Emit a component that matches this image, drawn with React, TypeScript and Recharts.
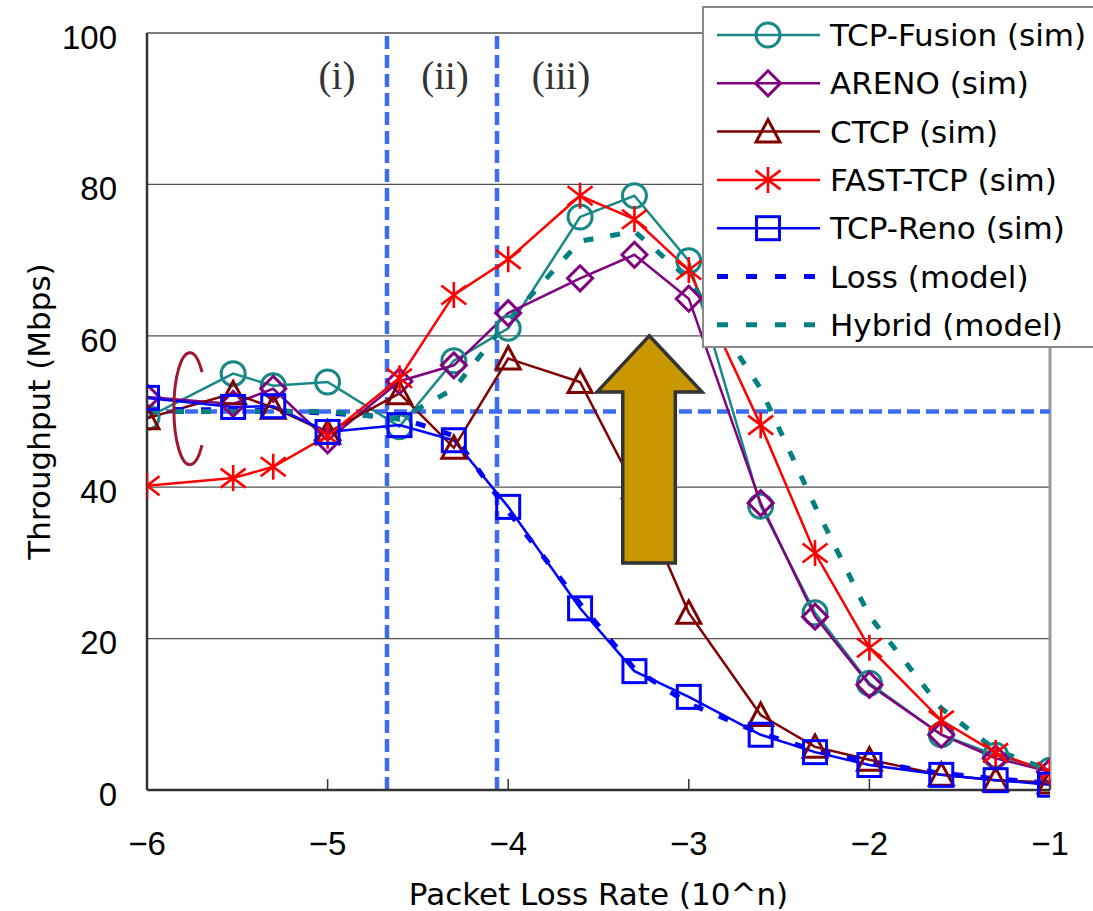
import React from 'react';
import {
  LineChart,
  Line,
  XAxis,
  YAxis,
  CartesianGrid,
  ReferenceLine,
  ReferenceArea,
  ReferenceDot,
  Legend,
  Label,
} from 'recharts';

// ---- data ----
const lossRateExp = [-6, -5.523, -5.301, -5, -4.602, -4.301, -4, -3.602, -3.301, -3, -2.602, -2.301, -2, -1.602, -1.301, -1];
const tcpFusion = [49.2, 55.0, 53.4, 53.9, 48.0, 56.7, 61.0, 75.7, 78.5, 69.9, 37.5, 23.4, 14.1, 7.3, 4.6, 2.6];
const areno = [51.9, 51.0, 53.0, 46.2, 54.0, 56.1, 63.0, 67.6, 70.7, 64.9, 37.9, 22.9, 13.9, 7.3, 4.2, 2.4];
const ctcp = [49.1, 52.4, 50.5, 47.2, 52.4, 45.2, 57.0, 53.9, 40.0, 23.4, 9.9, 5.7, 4.0, 2.0, 1.3, 1.0];
const fastTcp = [40.2, 41.2, 42.7, 46.8, 54.4, 65.4, 70.1, 78.5, 75.4, 68.7, 48.2, 31.3, 18.8, 9.2, 4.9, 2.4];
const tcpReno = [51.8, 50.6, 50.7, 47.3, 48.2, 46.2, 37.4, 24.0, 15.7, 12.3, 7.3, 5.0, 3.3, 2.0, 1.3, 0.7];
const lossModel = [50.3, 50.2, 50.1, 49.8, 49.2, 46.8, 36.8, 24.6, 16.0, 11.4, 7.5, 5.2, 3.7, 2.2, 1.5, 0.9];
const hybridModel = [50.0, 50.0, 50.0, 50.0, 49.0, 53.0, 62.0, 72.5, 73.8, 67.5, 53.0, 37.5, 23.0, 10.8, 5.3, 2.6];

const xTicks = [-6, -5, -4, -3, -2, -1];
const yTicks = [0, 20, 40, 60, 80, 100];

const targetThroughput = 50;
const regionBoundaries = [-4.671, -4.062];
const regionLabels = ['(i)', '(ii)', '(iii)'];
const regionLabelX = [-4.948, -4.35, -3.708];
const regionLabelY = 93.8;

const arrowX = [-3.508, -2.927];
const arrowY = [30, 60];
const bracketX = -5.762;
const bracketY = 50.7;

const chartData = lossRateExp.map((x, i) => ({
  x,
  fusion: tcpFusion[i],
  areno: areno[i],
  ctcp: ctcp[i],
  fast: fastTcp[i],
  reno: tcpReno[i],
  loss: lossModel[i],
  hybrid: hybridModel[i],
}));

// ---- styles ----
const TICK_FONT = '"Liberation Sans", Arial, sans-serif';
const TEXT_FONT = '"DejaVu Sans", "Liberation Sans", sans-serif';
const REF_BLUE = '#3D6CF4';

type SeriesMeta = {
  key: string;
  name: string;
  color: string;
  marker: string | null;
  dashed?: boolean;
};

const SERIES: SeriesMeta[] = [
  { key: 'fusion', name: 'TCP-Fusion (sim)', color: '#178787', marker: 'circle' },
  { key: 'areno', name: 'ARENO (sim)', color: '#800080', marker: 'diamond' },
  { key: 'ctcp', name: 'CTCP (sim)', color: '#800000', marker: 'triangle' },
  { key: 'fast', name: 'FAST-TCP (sim)', color: '#FF0000', marker: 'star' },
  { key: 'reno', name: 'TCP-Reno (sim)', color: '#0000FF', marker: 'square' },
  { key: 'loss', name: 'Loss (model)', color: '#0000FF', marker: null, dashed: true },
  { key: 'hybrid', name: 'Hybrid (model)', color: '#008080', marker: null, dashed: true },
];

function Marker({ type, cx, cy, color }: { type: string; cx: number; cy: number; color: string }) {
  const sw = 3;
  switch (type) {
    case 'circle':
      return <circle cx={cx} cy={cy} r={12} fill="none" stroke={color} strokeWidth={sw} />;
    case 'diamond':
      return (
        <polygon
          points={`${cx},${cy - 12.5} ${cx + 12.5},${cy} ${cx},${cy + 12.5} ${cx - 12.5},${cy}`}
          fill="none"
          stroke={color}
          strokeWidth={sw}
        />
      );
    case 'triangle':
      return (
        <polygon
          points={`${cx},${cy - 12} ${cx + 12},${cy + 10.5} ${cx - 12},${cy + 10.5}`}
          fill="none"
          stroke={color}
          strokeWidth={sw}
        />
      );
    case 'square':
      return <rect x={cx - 11.5} y={cy - 11.5} width={23} height={23} fill="none" stroke={color} strokeWidth={sw} />;
    case 'star':
      return (
        <path
          d={`M${cx},${cy - 13} V${cy + 13} M${cx - 12.5},${cy - 9.5} L${cx + 12.5},${cy + 9.5} M${cx - 12.5},${cy + 9.5} L${cx + 12.5},${cy - 9.5}`}
          fill="none"
          stroke={color}
          strokeWidth={2.6}
        />
      );
    default:
      return null;
  }
}

const fmtTick = (v: number) => (v < 0 ? `\u2212${Math.abs(v)}` : `${v}`);

const XTick = (props: any) => {
  const { x, y, payload } = props;
  return (
    <text x={x} y={y + 76} textAnchor="middle" fontSize={33} fontFamily={TICK_FONT} fill="#000">
      {fmtTick(payload.value)}
    </text>
  );
};

const YTick = (props: any) => {
  const { x, y, payload } = props;
  return (
    <text x={x} y={y + 4} dy="0.36em" textAnchor="end" fontSize={33} fontFamily={TICK_FONT} fill="#000">
      {payload.value}
    </text>
  );
};

const XTitle = (props: any) => {
  const vb = props.viewBox || { x: 147, y: 790, width: 903, height: 121 };
  return (
    <text x={vb.x + vb.width / 2} y={vb.y + 115} textAnchor="middle" fontSize={31} fontFamily={TEXT_FONT} fill="#000">
      Packet Loss Rate (10^n)
    </text>
  );
};

const YTitle = (props: any) => {
  const vb = props.viewBox || { x: 0, y: 33, width: 147, height: 757 };
  const cx = vb.x + 50;
  const cy = vb.y + vb.height / 2;
  return (
    <text
      x={cx}
      y={cy}
      transform={`rotate(-90 ${cx} ${cy})`}
      textAnchor="middle"
      fontSize={31}
      fontFamily={TEXT_FONT}
      fill="#000"
    >
      Throughput (Mbps)
    </text>
  );
};

const ArrowShape = (props: any) => {
  const { x, y, width, height } = props;
  if ([x, y, width, height].some((v) => typeof v !== 'number' || isNaN(v))) return null;
  const headH = height * 0.247;
  const sl = x + width * 0.245;
  const sr = x + width * 0.746;
  const tip = x + width * 0.498;
  const pts = [
    [tip, y],
    [x + width, y + headH],
    [sr, y + headH],
    [sr, y + height],
    [sl, y + height],
    [sl, y + headH],
    [x, y + headH],
  ]
    .map((p) => p.join(','))
    .join(' ');
  return <polygon points={pts} fill="#C99700" stroke="#333333" strokeWidth={3.5} strokeLinejoin="miter" />;
};

const BracketShape = (props: any) => {
  const { cx, cy } = props;
  if (typeof cx !== 'number' || typeof cy !== 'number') return null;
  const d = `M${cx + 12},${cy - 34} A16,56 0 1 0 ${cx + 12},${cy + 39}`;
  return <path d={d} fill="none" stroke="#9E1A32" strokeWidth={3} />;
};

const makeRegionLabel = (text: string) => (props: any) => {
  const { cx, cy } = props;
  if (typeof cx !== 'number' || typeof cy !== 'number') return null;
  return (
    <text x={cx} y={cy + 9} textAnchor="middle" fontSize={39} fontFamily='"Liberation Serif", "Times New Roman", serif' fill="#333">
      {text}
    </text>
  );
};

const renderLegend = () => {
  const rowH = 48.3;
  return (
    <div
      style={{
        width: 400,
        height: 342,
        boxSizing: 'border-box',
        border: '2px solid #8a8a8a',
        background: '#fff',
      }}
    >
      <svg width={396} height={338} style={{ display: 'block' }}>
        {SERIES.map((s, i) => {
          const cy = 27 + i * rowH;
          return (
            <g key={s.key}>
              {s.dashed ? (
                <line x1={13} x2={112} y1={cy} y2={cy} stroke={s.color} strokeWidth={5} strokeDasharray="11 18" />
              ) : (
                <line x1={13} x2={116} y1={cy} y2={cy} stroke={s.color} strokeWidth={2.5} />
              )}
              {s.marker && <Marker type={s.marker} cx={64} cy={cy} color={s.color} />}
              <text x={126} y={cy + 11} fontSize={31} fontFamily={TEXT_FONT} fill="#000">
                {s.name}
              </text>
            </g>
          );
        })}
      </svg>
    </div>
  );
};

export default function App() {
  return (
    <div style={{ position: 'absolute', left: 0, top: 0, width: 1093, height: 911, overflow: 'hidden', background: '#fff' }}>
      <LineChart width={1093} height={911} data={chartData} margin={{ top: 33, right: 43, left: 0, bottom: 0 }}>
        <CartesianGrid vertical={false} stroke="#505050" strokeWidth={1.3} />
        <XAxis
          dataKey="x"
          type="number"
          domain={[-6, -1]}
          ticks={xTicks}
          allowDataOverflow
          height={121}
          tickSize={-11}
          tickMargin={0}
          tick={<XTick />}
          tickLine={{ stroke: '#333', strokeWidth: 1.5 }}
          axisLine={{ stroke: '#333', strokeWidth: 2.5 }}
        >
          <Label content={<XTitle />} />
        </XAxis>
        <YAxis
          type="number"
          domain={[0, 100]}
          ticks={yTicks}
          width={147}
          tickSize={0}
          tickMargin={30}
          tickLine={false}
          tick={<YTick />}
          axisLine={{ stroke: '#333', strokeWidth: 2.5 }}
        >
          <Label content={<YTitle />} />
        </YAxis>
        <ReferenceLine x={-1} stroke="#9a9a9a" strokeWidth={3} />
        <ReferenceLine y={targetThroughput} stroke={REF_BLUE} strokeWidth={4.5} strokeDasharray="13 6" />
        {regionBoundaries.map((bx) => (
          <ReferenceLine key={bx} x={bx} stroke={REF_BLUE} strokeWidth={4.5} strokeDasharray="13 6" />
        ))}
        {SERIES.map((s) =>
          s.dashed ? (
            <Line
              key={s.key}
              dataKey={s.key}
              name={s.name}
              stroke={s.color}
              strokeWidth={5}
              strokeDasharray="10 17"
              dot={false}
              activeDot={false}
              isAnimationActive={false}
            />
          ) : (
            <Line
              key={s.key}
              dataKey={s.key}
              name={s.name}
              stroke={s.color}
              strokeWidth={2.5}
              dot={(p: any) => <Marker key={`${s.key}-${p.index}`} type={s.marker as string} cx={p.cx} cy={p.cy} color={s.color} />}
              activeDot={false}
              isAnimationActive={false}
            />
          )
        )}
        {regionLabels.map((t, i) => (
          <ReferenceDot key={t} x={regionLabelX[i]} y={regionLabelY} r={0} shape={makeRegionLabel(t)} />
        ))}
        <ReferenceDot x={bracketX} y={bracketY} r={0} shape={BracketShape} />
        <ReferenceArea x1={arrowX[0]} x2={arrowX[1]} y1={arrowY[0]} y2={arrowY[1]} shape={ArrowShape} zIndex={1000} />
        <Legend
          layout="vertical"
          align="center"
          verticalAlign="middle"
          content={renderLegend}
          wrapperStyle={{ left: 702, top: 6, width: 400, height: 342 }}
        />
      </LineChart>
    </div>
  );
}
